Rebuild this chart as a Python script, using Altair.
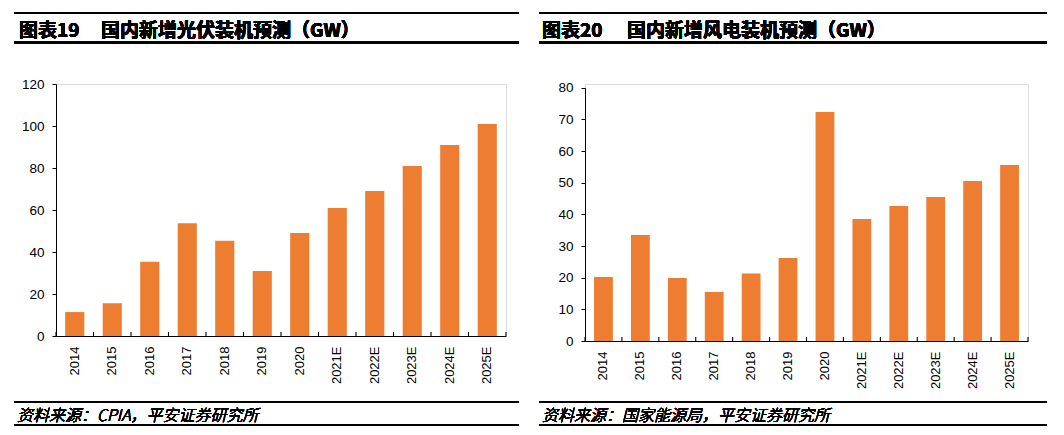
import altair as alt
import pandas as pd

years = ["2014", "2015", "2016", "2017", "2018", "2019", "2020",
         "2021E", "2022E", "2023E", "2024E", "2025E"]
pv_values = [11.4, 15.6, 35.3, 53.7, 45.3, 31.0, 49.1, 61.0, 69.1, 80.9, 91.0, 101.0]
wind_values = [20.2, 33.5, 19.9, 15.5, 21.3, 26.2, 72.3, 38.5, 42.6, 45.5, 50.5, 55.6]

pv_ticks = [0, 20, 40, 60, 80, 100, 120]
wind_ticks = [0, 10, 20, 30, 40, 50, 60, 70, 80]

left_title_no = "图表19"
left_title = "国内新增光伏装机预测（GW）"
left_source = "资料来源：CPIA，平安证券研究所"
right_title_no = "图表20"
right_title = "国内新增风电装机预测（GW）"
right_source = "资料来源：国家能源局，平安证券研究所"

BAR = "#ED7D31"
LAT = "Liberation Sans"
CJK = "Noto Sans CJK SC"
P_IN = 0.49
N = len(years)
boundaries = list(range(N + 1))  # category boundaries 0..N


def panel(values, ticks, ymax, w, h, yrange, title_no, title, source, geo):
    df = pd.DataFrame({"year": years, "value": values})
    bdf = pd.DataFrame({"k": boundaries})
    xscale = alt.Scale(paddingInner=P_IN, paddingOuter=P_IN / 2)
    xaxis = alt.Axis(labelAngle=270, labelFont=LAT, labelFontSize=13,
                     labelColor="#000", domain=True, domainColor="#000",
                     domainWidth=1.2, ticks=False, tickSize=0,
                     labelPadding=10, grid=False)
    x = alt.X("year:N", sort=years, title=None, scale=xscale, axis=xaxis)
    y = alt.Y("value:Q", title=None,
              scale=alt.Scale(domain=[0, ymax], nice=False, range=yrange),
              axis=alt.Axis(values=ticks, labelFont=LAT, labelFontSize=13.5,
                            labelColor="#000", domainColor="#000", domainWidth=1,
                            tickColor="#000", tickSize=4, tickWidth=1,
                            labelOverlap=False, labelPadding=8, grid=False))
    bars = alt.Chart(df).mark_bar(color=BAR).encode(x=x, y=y)

    # inward category ticks at the band boundaries
    tick_marks = alt.Chart(bdf).mark_rule(color="#000", strokeWidth=1.1).encode(
        x=alt.X("k:Q", scale=alt.Scale(domain=[0, N], nice=False, zero=False),
                axis=None),
        y=alt.value(h - 4), y2=alt.value(h))

    def hrule(x1, x2, yy):
        return alt.Chart(df).mark_rule(color="#000", strokeWidth=1.3).encode(
            x=alt.value(x1), x2=alt.value(x2), y=alt.value(yy))

    def txt(s, xx, yy, size, weight="normal", italic=False):
        return alt.Chart(df).mark_text(
            text=s, font=CJK, fontSize=size, align="left", baseline="middle",
            fontWeight=weight,
            fontStyle="italic" if italic else "normal", color="#000").encode(
            x=alt.value(xx), y=alt.value(yy))

    g = geo
    layers = [
        bars, tick_marks,
        hrule(g["l"], g["r"], -71),
        hrule(g["l"], g["r"], -41.5),
        hrule(g["l"], g["r"], 318),
        hrule(g["l"], g["r"], 341),
        txt(title_no, g["t1"], -53, 19, weight="bold"),
        txt(title, g["t2"], -53, 19, weight="bold"),
        txt(source, g["s"], 332, 16, weight=300, italic=True),
    ]
    return alt.layer(*layers).resolve_scale(x="independent").resolve_axis(
        x="independent").properties(width=w, height=h)


left = panel(pv_values, pv_ticks, 120, 450, 252, [252, 0],
             left_title_no, left_title, left_source,
             dict(l=-42, r=463, t1=-37, t2=45, s=-39))
right = panel(wind_values, wind_ticks, 80, 443, 257, [257, 3.7],
              right_title_no, right_title, right_source,
              dict(l=-46, r=462, t1=-43, t2=42, s=-43))

chart = alt.hconcat(left, right, spacing=16).properties(
    padding={"left": 4, "top": 3, "right": 5, "bottom": 5}
).configure_view(strokeWidth=0, strokeOpacity=0).configure(background="white")

chart.save("out.html", embed_options={"renderer": "svg", "actions": False})
